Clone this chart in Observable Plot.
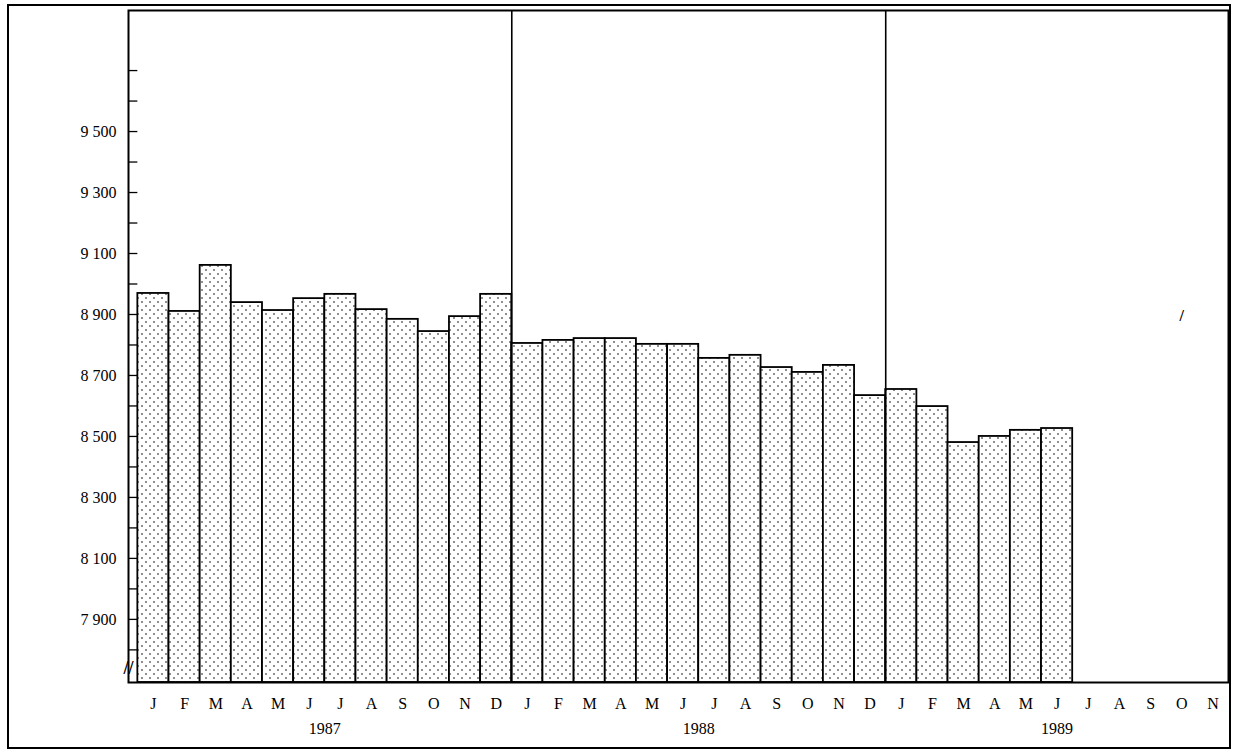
<!DOCTYPE html>
<html><head><meta charset="utf-8">
<script src="https://cdn.jsdelivr.net/npm/d3@7"></script>
<script src="https://cdn.jsdelivr.net/npm/@observablehq/plot@0.6"></script>
<style>body{margin:0;background:#fff}</style>
</head><body><div id="chart"></div>
<script>
const months = ['J','F','M','A','M','J','J','A','S','O','N','D',
  'J','F','M','A','M','J','J','A','S','O','N','D',
  'J','F','M','A','M','J','J','A','S','O','N']
const years = [{year: '1987', at: 6}, {year: '1988', at: 18}, {year: '1989', at: 29.5}]
const values = [8969, 8910, 9061, 8939, 8913, 8952, 8966, 8916, 8884, 8844, 8893, 8966,
  8805, 8815, 8821, 8821, 8802, 8802, 8756, 8766, 8726, 8710, 8733, 8634,
  8654, 8598, 8480, 8500, 8520, 8526]
const labelTicks = [7900, 8100, 8300, 8500, 8700, 8900, 9100, 9300, 9500]
const minorTicks = d3.range(7800, 9800, 100)

const base = 7693
const bars = values.map((v, i) => ({i, v}))
const fmt = d => String(d).replace(/^(\d)(\d{3})$/, '$1 $2')

const chart = Plot.plot({
  width: 1234, height: 752,
  marginLeft: 128, marginRight: 6, marginTop: 10, marginBottom: 70,
  x: {domain: [-0.3, 35.0], axis: null},
  y: {domain: [base, 9897], axis: null},
  style: {fontFamily: 'Liberation Serif', fontSize: '16px', color: '#000'},
  marks: [
    Plot.rect(bars, {x1: d => d.i, x2: d => d.i + 1, y1: base, y2: 'v',
      fill: 'url(#dots)', stroke: '#000', strokeWidth: 1.8}),
    Plot.ruleX([12, 24], {stroke: '#000', strokeWidth: 1.6}),
    Plot.ruleY(minorTicks, {x1: -0.3, x2: 0, stroke: '#000', strokeWidth: 1.3}),
    Plot.text(labelTicks, {x: -0.3, y: d => d, text: fmt, dx: -12, textAnchor: 'end'}),
    Plot.text(months, {x: (d, i) => i + 0.5, y: base, text: d => d, dy: 21}),
    Plot.text(years, {x: 'at', y: base, text: 'year', dy: 46}),
    Plot.text(['//'], {x: -0.3, y: 7740, text: d => d, fontWeight: 'bold', fontSize: 18}),
    Plot.text(['/'], {x: 33.5, y: 8895, text: d => d, fontWeight: 'bold'}),
    Plot.frame({stroke: '#000', strokeWidth: 2})
  ]
})

const svg = d3.select(chart)
const defs = svg.insert('defs', ':first-child')
const pat = defs.append('pattern').attr('id', 'dots').attr('patternUnits', 'userSpaceOnUse')
  .attr('width', 8).attr('height', 8)
pat.append('rect').attr('width', 8).attr('height', 8).attr('fill', '#fff')
pat.append('circle').attr('cx', 2).attr('cy', 2).attr('r', 0.8).attr('fill', '#000')
pat.append('circle').attr('cx', 6).attr('cy', 6).attr('r', 0.8).attr('fill', '#000')
svg.append('rect').attr('x', 8).attr('y', 5).attr('width', 1222).attr('height', 743)
  .attr('fill', 'none').attr('stroke', '#000').attr('stroke-width', 2)

d3.select('#chart').append(() => chart)
</script></body></html>
